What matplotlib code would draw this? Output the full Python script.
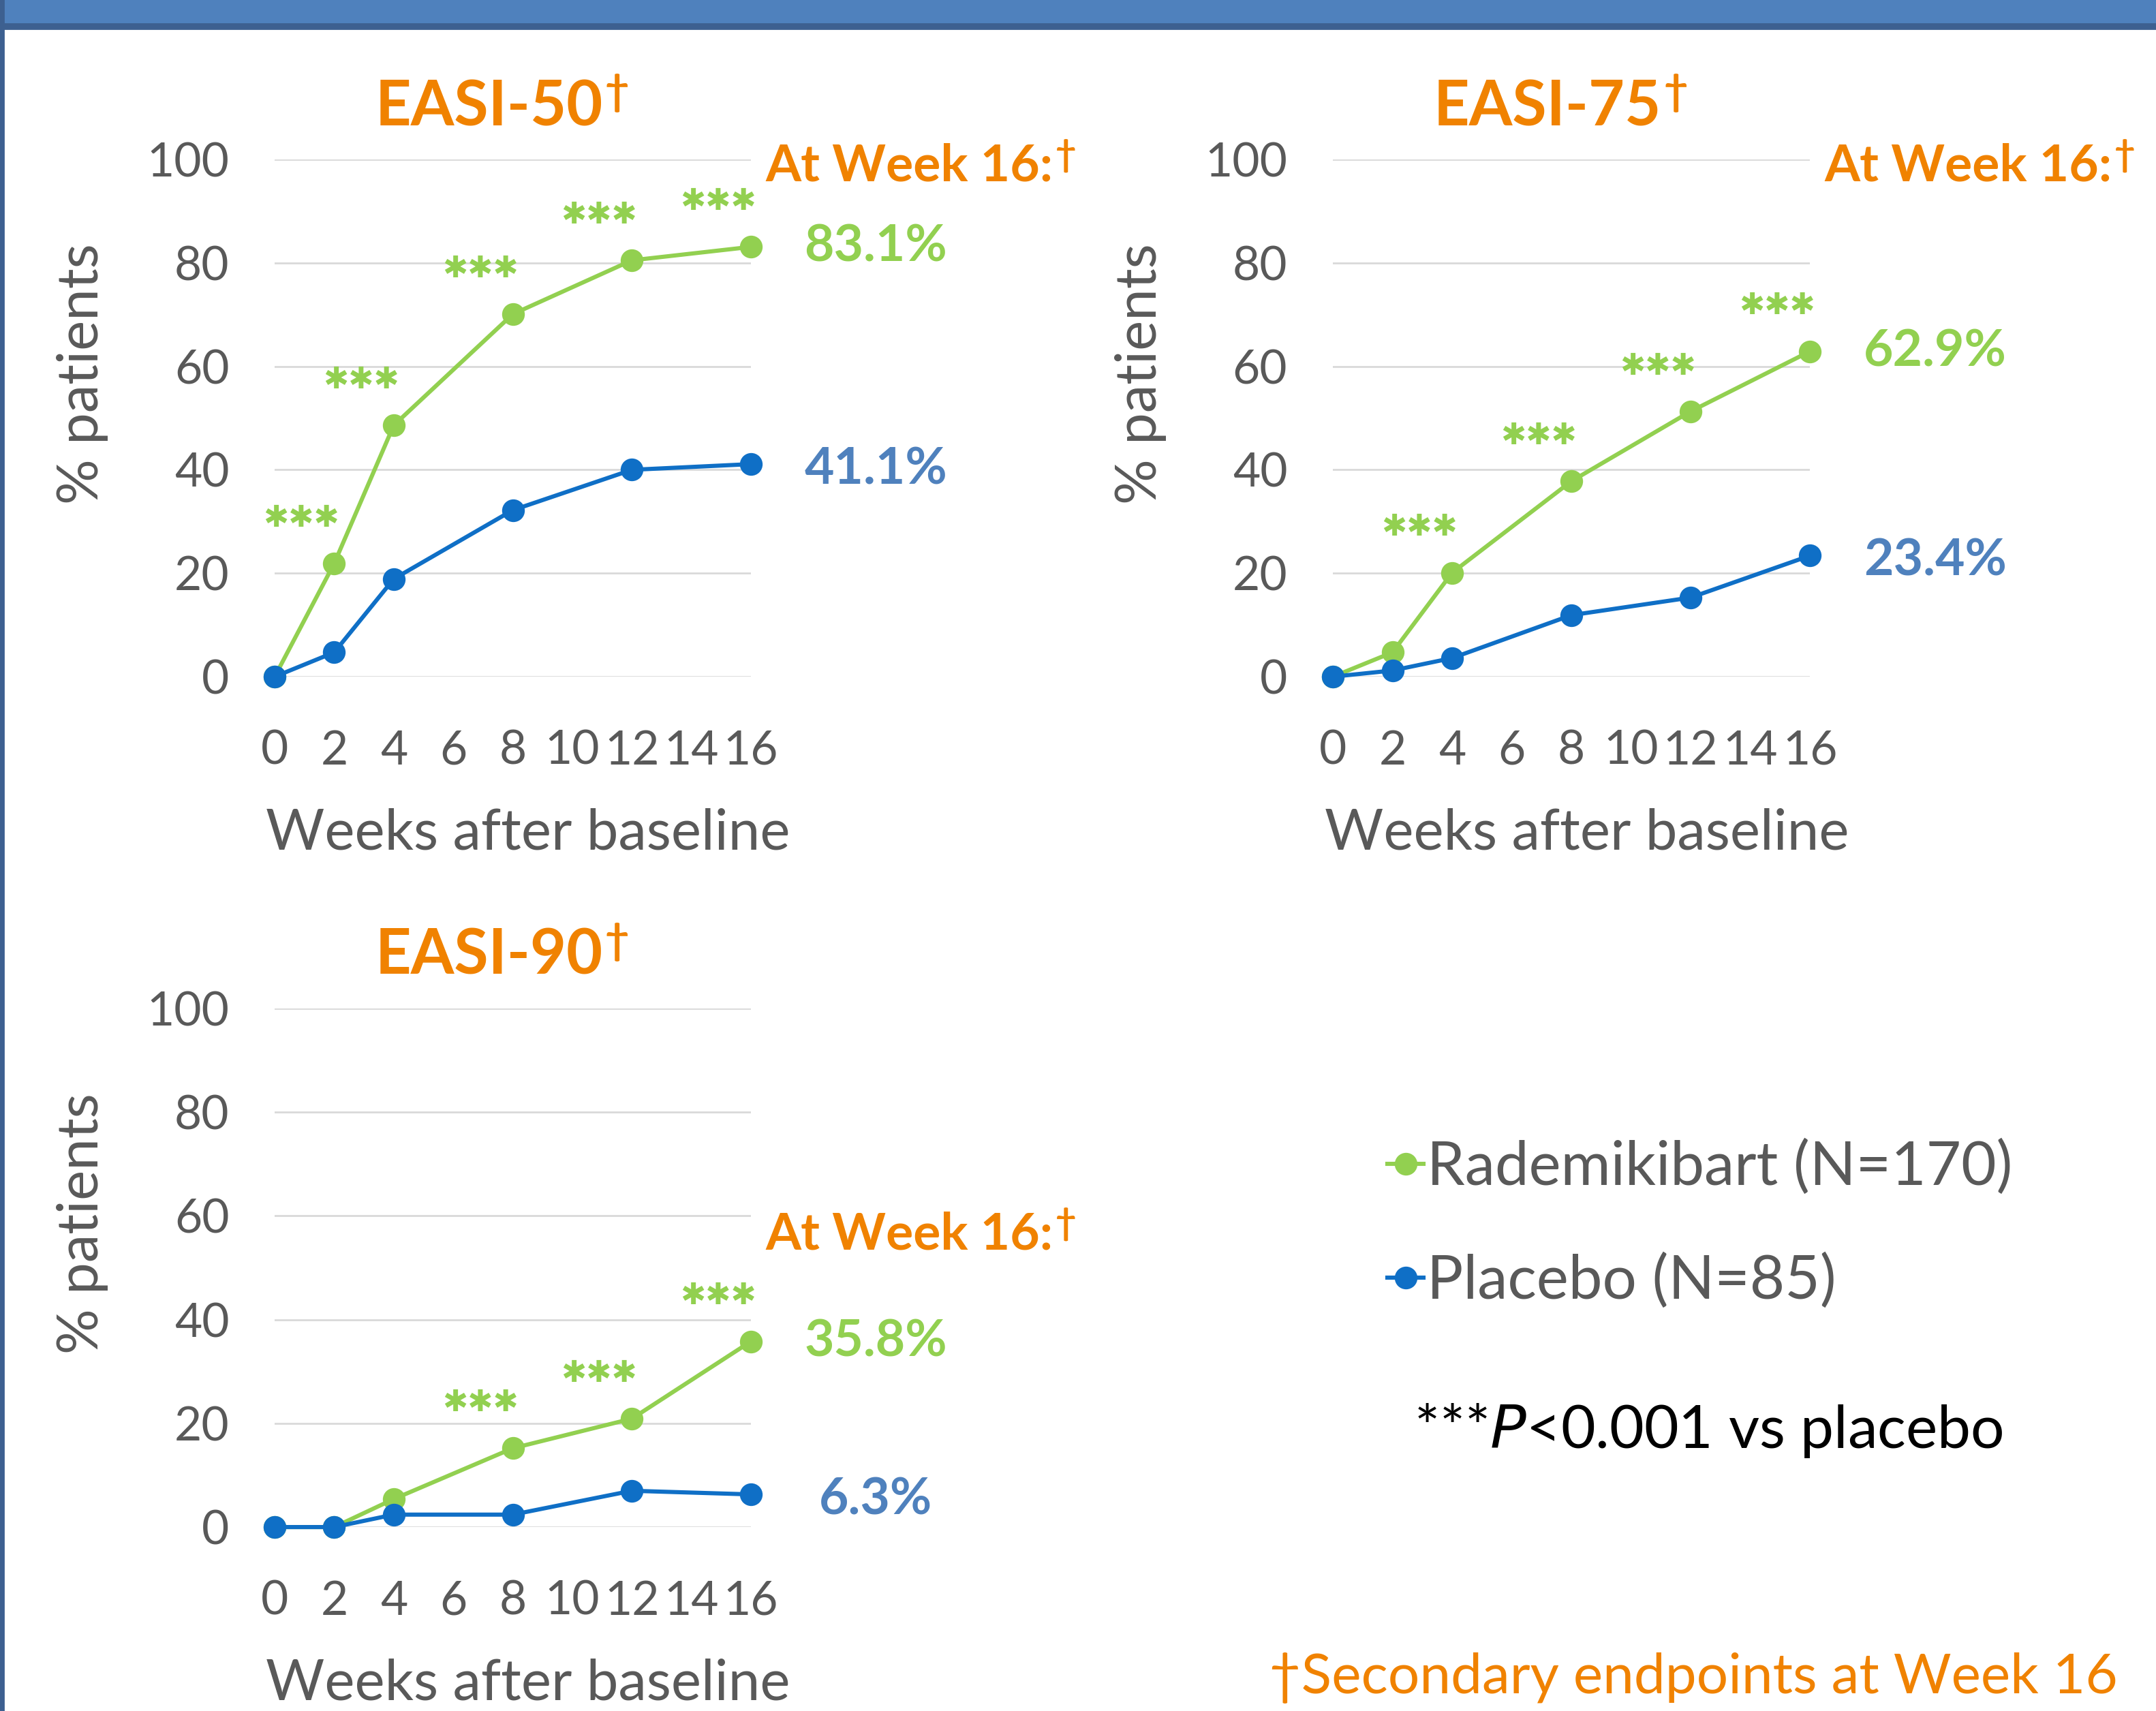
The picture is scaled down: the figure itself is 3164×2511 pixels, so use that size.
import matplotlib
matplotlib.use("Agg")
import matplotlib.pyplot as plt
from matplotlib.patches import Rectangle

plt.rcParams['font.family'] = ['Lato', 'DejaVu Sans']

weeks = [0, 2, 4, 8, 12, 16]

# EASI-50
easi50_rademikibart = [0, 21.9, 48.6, 70.1, 80.5, 83.1]
easi50_placebo = [0, 4.7, 18.9, 32.2, 40.0, 41.1]
easi50_sig_weeks = [2, 4, 8, 12, 16]

# EASI-75
easi75_rademikibart = [0, 4.7, 20.1, 37.8, 51.3, 62.9]
easi75_placebo = [0, 1.2, 3.6, 11.9, 15.3, 23.4]
easi75_sig_weeks = [4, 8, 12, 16]

# EASI-90
easi90_rademikibart = [0, 0, 5.4, 15.2, 20.9, 35.8]
easi90_placebo = [0, 0, 2.4, 2.4, 7.0, 6.3]
easi90_sig_weeks = [8, 12, 16]

titles = ['EASI-50', 'EASI-75', 'EASI-90']
week_ticks = [0, 2, 4, 6, 8, 10, 12, 14, 16]
pct_ticks = [0, 20, 40, 60, 80, 100]
legend_labels = ['Rademikibart (N=170)', 'Placebo (N=85)']

GREEN = '#92D050'
BLUE = '#0F6FC6'
BLUE_TXT = '#4F81BD'
ORANGE = '#F08200'
GRAY = '#595959'

fig = plt.figure(figsize=(15.82, 12.555), dpi=200)

# header band and left border
fig.add_artist(Rectangle((0, 1 - 35 / 2511), 1, 35 / 2511, transform=fig.transFigure,
                         color='#4F81BD', zorder=0))
fig.add_artist(Rectangle((0, 1 - 42 / 2511), 1, 7 / 2511, transform=fig.transFigure,
                         color='#3D6090', zorder=0))
fig.add_artist(Rectangle((0, 0), 5 / 3164, 1, transform=fig.transFigure,
                         color='#3D6090', zorder=0))

panels = [
    ([0.1274, 0.6045, 0.2209, 0.3023], easi50_rademikibart, easi50_placebo, easi50_sig_weeks, 0.987),
    ([0.6182, 0.6045, 0.2213, 0.3023], easi75_rademikibart, easi75_placebo, easi75_sig_weeks, 0.987),
    ([0.1274, 0.1075, 0.2209, 0.3031], easi90_rademikibart, easi90_placebo, easi90_sig_weeks, 0.564),
]

lines = None
for (pos, rad, plc, sig, wk_y), title in zip(panels, titles):
    ax = fig.add_axes(pos)
    l1, = ax.plot(weeks, rad, color=GREEN, lw=2.2, marker='o', ms=11, clip_on=False, zorder=3)
    l2, = ax.plot(weeks, plc, color=BLUE, lw=2.2, marker='o', ms=11, clip_on=False, zorder=4)
    lines = (l1, l2)
    ax.set_xlim(0, 16)
    ax.set_ylim(0, 100)
    ax.set_xticks(week_ticks)
    ax.set_yticks(pct_ticks)
    ax.tick_params(length=0, labelsize=25, colors=GRAY)
    ax.tick_params(axis='y', pad=24)
    ax.tick_params(axis='x', pad=28)
    ax.grid(axis='y', color='#D9D9D9', lw=1)
    ax.set_axisbelow(True)
    for s in ax.spines.values():
        s.set_visible(False)
    ax.set_ylabel('% patients', fontsize=30, color=GRAY)
    ax.yaxis.set_label_coords(-0.403, 0.585)
    ax.yaxis.label.set_va('center')
    ax.set_xlabel('Weeks after baseline', fontsize=30, color=GRAY)
    ax.xaxis.set_label_coords(0.532, -0.303)
    ax.xaxis.label.set_va('center')

    t = ax.text(0.45, 1.10, title, transform=ax.transAxes, ha='center', va='center',
                fontsize=33, fontweight='bold', color=ORANGE)
    ax.annotate('†', xy=(1, 1), xycoords=t, xytext=(1, 3), textcoords='offset points',
                ha='left', va='top', fontsize=22, fontweight='bold', color=ORANGE)
    t2 = ax.text(1.031, wk_y, 'At Week 16:', transform=ax.transAxes, ha='left', va='center',
                 fontsize=27, fontweight='bold', color=ORANGE)
    ax.annotate('†', xy=(1, 1), xycoords=t2, xytext=(1, 2), textcoords='offset points',
                ha='left', va='top', fontsize=19, fontweight='bold', color=ORANGE)

    for w in sig:
        v = rad[weeks.index(w)]
        ax.annotate('✱✱✱', xy=(w - 1.1, v), xytext=(0, 24), textcoords='offset points',
                    ha='center', va='center', fontsize=16, color=GREEN,
                    family='DejaVu Sans', annotation_clip=False)

    ax.text(20.2, rad[-1], f'{rad[-1]:.1f}%', ha='center', va='center', fontsize=27,
            fontweight='bold', color=GREEN, clip_on=False)
    ax.text(20.2, plc[-1] - 1, f'{plc[-1]:.1f}%', ha='center', va='center', fontsize=27,
            fontweight='bold', color=BLUE_TXT, clip_on=False)

leg = fig.legend(lines, legend_labels, loc='center left', bbox_to_anchor=(2036 / 3164, 1 - 1797 / 2511),
                 frameon=False, fontsize=32, handlelength=0.6, handletextpad=0.05,
                 labelspacing=0.95, borderpad=0, borderaxespad=0)
for txt in leg.get_texts():
    txt.set_color(GRAY)

fig.text(2075 / 3164, 1 - 2099 / 2511, r'***$\it{P}$<0.001 vs placebo', ha='left', va='center',
         fontsize=31.5, color='black')
fig.text(3108 / 3164, 1 - 2462 / 2511, '†Secondary endpoints at Week 16', ha='right', va='center',
         fontsize=29.5, color=ORANGE)

fig.savefig('out.png', dpi=200, facecolor='white')
